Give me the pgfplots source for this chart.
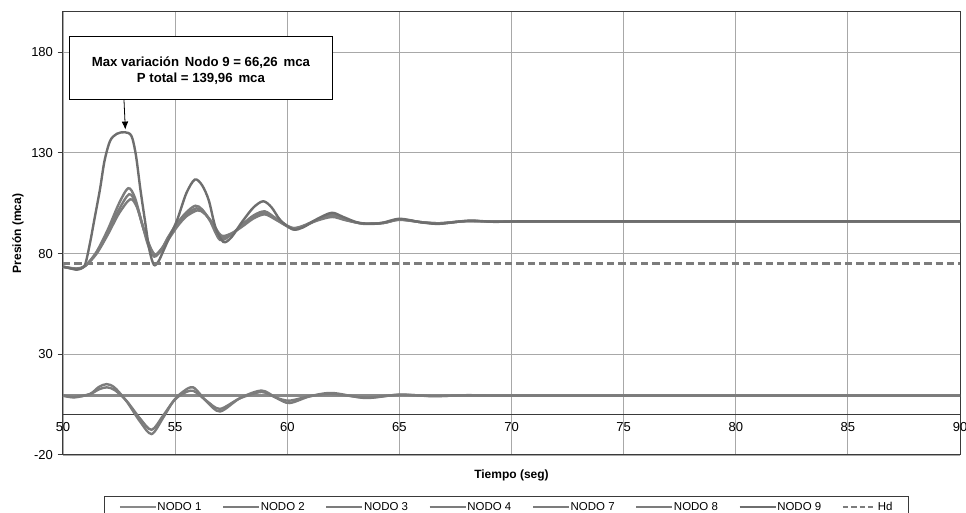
\documentclass[border=0pt]{standalone}
\usepackage{fontspec}
\setmainfont{Liberation Sans}
\usepackage{pgfplots}
\pgfplotsset{compat=1.18}
\usetikzlibrary{arrows.meta}
\definecolor{curveGray}{HTML}{7C7C7C}
\definecolor{peakGray}{HTML}{6E6E6E}
\definecolor{gridGray}{HTML}{A8A8A8}
\definecolor{frameDark}{HTML}{3A3A3A}

\begin{document}
\begin{tikzpicture}
\begin{axis}[
  scale only axis, width=672.75pt, height=332.25pt,
  xmin=50, xmax=90, ymin=-20, ymax=200,
  xtick={50,55,...,90}, ytick={-20,30,80,130,180},
  grid=major, major grid style={draw=gridGray, line width=0.7pt},
  axis line style={draw=frameDark, line width=0.75pt},
  ytick pos=left, tick align=outside, major tick length=4pt,
  ytick style={draw=frameDark, line width=0.75pt},
  xtick style={draw=none},
  tick label style={font=\fontsize{9.75}{11}\selectfont,
    /pgf/number format/assume math mode=true},
  xticklabel style={yshift=32pt},
  xlabel={\textbf{Tiempo (seg)}}, ylabel={\textbf{Presión (mca)}},
  every axis x label/.style={at={(axis description cs:0.5,-0.0451)}, anchor=center,
    font=\fontsize{9}{11}\selectfont},
  every axis y label/.style={at={(axis description cs:-0.0502,0.5)}, rotate=90, anchor=center,
    font=\fontsize{9}{11}\selectfont},
  legend columns=8,
  legend style={at={(0.4939,-0.0926)}, anchor=north, draw=frameDark, line width=0.6pt,
    font=\fontsize{8.6}{10}\selectfont, inner xsep=11pt, inner ysep=3.3pt,
    nodes={inner xsep=0.5pt, inner ysep=1pt},
    /tikz/every even column/.append style={column sep=15pt}},
  legend image code/.code={\draw[#1, line width=1.5pt] (0pt,0pt) -- (27pt,0pt);},
  every axis plot/.append style={line width=1.8pt, smooth},
]
\draw[frameDark, line width=0.75pt] (axis cs:50,0) -- (axis cs:90,0);

% NODO 1 (flat)
\addplot[color=curveGray!90, mark=none] coordinates {(50,9.5) (90,9.5)};
% NODO 2
\addplot[color=curveGray, mark=none] coordinates {
(50,73.5)(50.6,72.3)(51.0,74)(51.5,81)(52.0,92)(52.5,105)(52.91,112.5)(53.2,108)
(53.5,96)(53.8,84)(54.07,78.5)(54.4,82)(54.65,87.5)(55.07,94.8)(55.5,100.5)(55.9,103.8)
(56.2,102)(56.55,96.4)(57.0,86.8)(57.5,89.5)(58.0,94.5)(58.5,99)(59.0,101)(59.5,97.5)
(60.2,92.8)(60.7,93.8)(61.3,96.8)(62.0,99.6)(62.6,97)(63.4,94.8)(64.3,95.2)(65.0,97)
(66.0,95.6)(66.8,95)(68.0,96.2)(69.0,95.9)(70.0,96)(80,96)(90,96)};
% NODO 3
\addplot[color=curveGray, mark=none] coordinates {
(50,73.5)(50.6,72.5)(51.0,74)(51.5,80.5)(52.0,90.5)(52.5,102)(52.95,109.5)(53.25,105)
(53.55,94)(53.85,84)(54.1,79)(54.4,82.5)(54.65,87)(55.07,94)(55.5,99.5)(55.95,102.5)
(56.25,100.8)(56.6,96)(57.05,87.8)(57.5,89.5)(58.0,94)(58.5,98.2)(59.0,100.2)(59.5,97)
(60.2,92.8)(60.7,93.6)(61.3,96.5)(62.0,98.9)(62.6,96.8)(63.4,94.9)(64.3,95.3)(65.0,96.9)
(66.0,95.6)(66.8,95.1)(68.0,96.1)(70.0,96)(80,96)(90,96)};
% NODO 4
\addplot[color=curveGray, mark=none] coordinates {
(50,73.5)(50.6,72.6)(51.0,74)(51.5,80)(52.0,89.5)(52.5,100)(53.0,107)(53.3,103)
(53.6,92)(53.9,83)(54.12,79.5)(54.4,82.5)(54.7,87)(55.1,93.5)(55.5,98.5)(56.0,101.5)
(56.3,100)(56.65,95.5)(57.05,89)(57.5,90)(58.0,93.5)(58.5,97.5)(59.0,99.5)(59.5,96.8)
(60.2,92.5)(60.7,93.5)(61.3,96.3)(62.0,98.2)(62.6,96.6)(63.4,94.9)(64.3,95.3)(65.0,96.8)
(66.0,95.6)(66.8,95.1)(68.0,96.1)(70.0,96)(80,96)(90,96)};
% NODO 7
\addplot[color=curveGray, mark=none] coordinates {
(50,9.5)(50.5,8.6)(51.2,10.3)(51.6,13.8)(51.95,15.2)(52.3,13.5)(52.84,6.6)(53.43,-3.3)
(53.95,-9.6)(54.46,-1.6)(54.91,6.6)(55.3,11)(55.8,13.6)(56.4,6.6)(57.0,1.6)(57.9,8.3)
(58.86,12)(59.52,8.3)(60.1,5.8)(61.0,9.1)(62.0,10.8)(63.5,8.3)(65.0,10)(66.5,9.2)
(68.0,9.7)(70.0,9.5)(80,9.5)(90,9.5)};
% NODO 8
\addplot[color=curveGray, mark=none] coordinates {
(50,9.5)(50.5,8.8)(51.2,10.2)(51.6,12.6)(51.95,13.6)(52.3,12.3)(52.84,6.8)(53.43,-1.8)
(53.95,-7.5)(54.46,-0.5)(54.91,6.5)(55.3,10.2)(55.8,11.9)(56.4,6.9)(57.0,2.9)(57.9,8.2)
(58.86,11.3)(59.52,8.4)(60.1,7)(61.0,9.2)(62.0,10.4)(63.5,8.5)(65.0,9.9)(66.5,9.3)
(68.0,9.6)(70.0,9.5)(80,9.5)(90,9.5)};
% NODO 9
\addplot[color=peakGray, mark=none] coordinates {
(50,73.5)(50.3,72.8)(50.6,72.0)(50.85,72.8)(51.0,75)(51.2,85)(51.4,97)(51.65,112)
(51.85,126)(52.1,136)(52.4,139.5)(52.75,140.3)(53.05,138.5)(53.25,129)(53.45,112)
(53.66,96)(53.85,82)(54.05,74.5)(54.25,76)(54.5,82)(54.8,89.5)(55.1,97)(55.5,110)
(55.88,116.8)(56.2,114)(56.5,106.5)(56.8,93)(57.15,85.8)(57.5,88)(58.0,96)(58.5,103)
(58.93,106)(59.3,103)(59.7,96.5)(60.25,92)(60.7,93)(61.3,97)(61.98,100.3)(62.5,98.2)
(63.2,95.3)(64.1,95)(65.0,97.3)(66.0,95.5)(66.8,94.8)(68.1,96.4)(69.2,95.8)(70.5,96)
(75,96)(80,96)(90,96)};
% Hd
\addplot[color=curveGray, mark=none, sharp plot, line width=2pt,
  dash pattern=on 5.5pt off 3pt,
  legend image code/.code={\draw[curveGray, line width=1.5pt, dash pattern=on 4pt off 2.3pt] (0pt,0pt) -- (25pt,0pt);}]
  coordinates {(50,75) (90,75)};

\legend{NODO 1,NODO 2,NODO 3,NODO 4,NODO 7,NODO 8,NODO 9,Hd}

\draw[-{Latex[length=6pt,width=5pt]}, black, line width=0.6pt]
  (axis cs:52.72,156.3) -- (axis cs:52.78,141.6);
\draw[black, line width=0.75pt, fill=white] (axis cs:50.3,156.3) rectangle (axis cs:62,187.6);
\node[align=center, font=\bfseries\fontsize{9.9}{12}\selectfont] at (axis cs:56.15,170.8)
  {Max variación\, Nodo 9 = 66,26\, mca\\P total = 139,96\, mca};
\end{axis}
\pgfresetboundingbox
\path[use as bounding box] ([shift={(-47.25pt,-43.5pt)}]current axis.south west)
  rectangle ([shift={(677.25pt,341.25pt)}]current axis.south west);
\end{tikzpicture}
\end{document}
